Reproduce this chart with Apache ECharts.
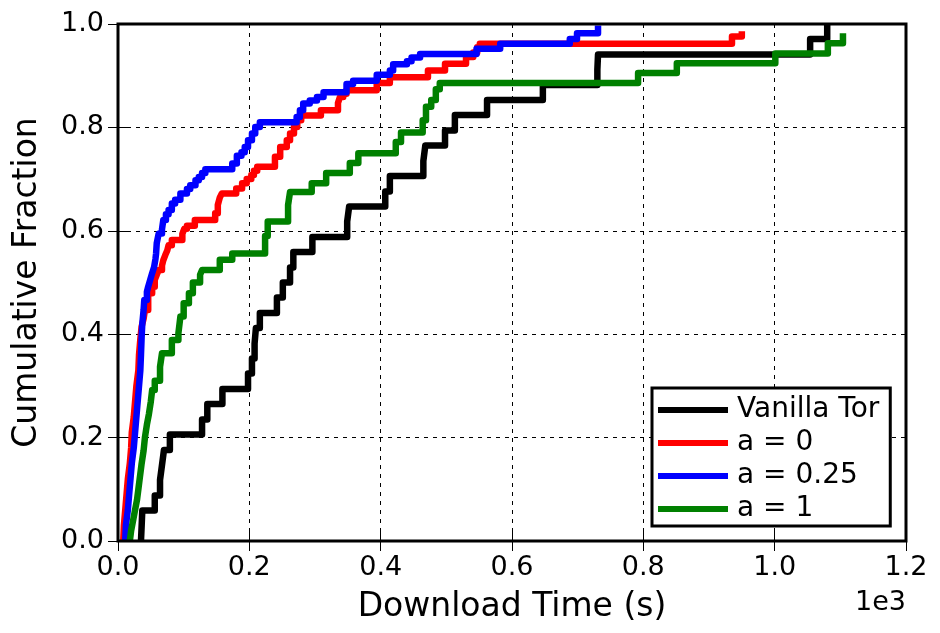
<!DOCTYPE html>
<html>
<head>
<meta charset="utf-8">
<title>Download Time CDF</title>
<script src="https://cdn.jsdelivr.net/npm/echarts@6/dist/echarts.min.js"></script>
<style>
  html, body { margin: 0; padding: 0; background: #ffffff; }
  #chart { width: 940px; height: 633px; }
</style>
</head>
<body>
<div id="chart"></div>
<script>
// Download times (seconds) and cumulative fraction reached at each time, per configuration
const timesVanilla = [35, 36, 37, 56, 64, 67, 70, 79, 128, 136, 159, 198, 204, 208, 210, 216, 242, 251, 262, 267, 296, 349, 352, 407, 414, 465, 468, 498, 513, 562, 647, 730, 731, 1054, 1080];
const fracVanilla  = [0, 0.029, 0.059, 0.088, 0.118, 0.147, 0.176, 0.206, 0.235, 0.265, 0.294, 0.324, 0.353, 0.382, 0.412, 0.441, 0.471, 0.500, 0.529, 0.559, 0.588, 0.618, 0.647, 0.676, 0.706, 0.735, 0.765, 0.794, 0.824, 0.853, 0.882, 0.912, 0.941, 0.971, 1.000];

const timesA0 = [8, 9, 11, 13, 15, 18, 20, 21, 24, 26, 28, 31, 32, 34, 36, 39, 41, 46, 52, 56, 59, 62, 67, 69, 72, 75, 77, 82, 98, 101, 105, 117, 148, 152, 155, 158, 180, 189, 196, 203, 207, 212, 239, 247, 257, 262, 268, 273, 279, 309, 335, 338, 343, 348, 394, 414, 472, 498, 530, 541, 547, 551, 935, 950];
const fracA0  = [0, 0.030, 0.060, 0.090, 0.120, 0.150, 0.180, 0.210, 0.240, 0.270, 0.300, 0.330, 0.360, 0.390, 0.415, 0.430, 0.447, 0.479, 0.492, 0.505, 0.515, 0.524, 0.533, 0.543, 0.553, 0.562, 0.572, 0.582, 0.594, 0.604, 0.610, 0.621, 0.634, 0.650, 0.664, 0.672, 0.682, 0.692, 0.700, 0.708, 0.716, 0.724, 0.743, 0.762, 0.775, 0.788, 0.801, 0.814, 0.823, 0.833, 0.847, 0.859, 0.865, 0.872, 0.886, 0.897, 0.910, 0.923, 0.936, 0.945, 0.955, 0.962, 0.976, 0.986];

const timesA025 = [11, 12, 15, 17, 19, 21, 24, 26, 28, 30, 32, 34, 35, 36, 37, 39, 40, 44, 46, 49, 52, 55, 57, 58, 59, 62, 67, 69, 73, 77, 82, 87, 95, 105, 110, 118, 123, 128, 133, 174, 181, 188, 193, 198, 204, 209, 216, 272, 277, 282, 292, 303, 313, 348, 358, 394, 414, 419, 440, 447, 460, 546, 582, 688, 699, 731];
const fracA025  = [0, 0.030, 0.060, 0.090, 0.120, 0.150, 0.180, 0.210, 0.240, 0.270, 0.300, 0.330, 0.360, 0.395, 0.420, 0.447, 0.466, 0.482, 0.492, 0.505, 0.518, 0.530, 0.545, 0.556, 0.576, 0.595, 0.603, 0.621, 0.632, 0.640, 0.653, 0.660, 0.672, 0.681, 0.688, 0.698, 0.704, 0.712, 0.719, 0.730, 0.745, 0.752, 0.762, 0.775, 0.788, 0.801, 0.810, 0.820, 0.833, 0.846, 0.852, 0.859, 0.868, 0.884, 0.890, 0.902, 0.910, 0.922, 0.928, 0.935, 0.942, 0.952, 0.962, 0.971, 0.982, 0.997];

const timesA1 = [18, 20, 23, 26, 29, 31, 33, 35, 36, 39, 41, 44, 47, 50, 52, 56, 64, 67, 82, 92, 95, 100, 108, 114, 125, 128, 155, 174, 224, 228, 259, 262, 295, 317, 353, 366, 423, 431, 464, 469, 477, 484, 490, 792, 851, 1001, 1081, 1104];
const fracA1  = [0, 0.020, 0.040, 0.060, 0.080, 0.100, 0.120, 0.140, 0.150, 0.175, 0.200, 0.225, 0.245, 0.270, 0.292, 0.310, 0.337, 0.363, 0.389, 0.402, 0.434, 0.460, 0.479, 0.500, 0.515, 0.524, 0.544, 0.556, 0.590, 0.618, 0.650, 0.675, 0.692, 0.712, 0.731, 0.750, 0.772, 0.790, 0.814, 0.840, 0.853, 0.874, 0.886, 0.905, 0.924, 0.943, 0.963, 0.982];

const seriesNames = ['Vanilla Tor', 'a = 0', 'a = 0.25', 'a = 1'];
const seriesColors = ['#000000', '#ff0000', '#0000ff', '#008000'];

const xMin = 0, xMax = 1200, xStep = 200;
const yMin = 0, yMax = 1, yStep = 0.2;

const FONT = 'DejaVu Sans';

function pairs(times, fracs) {
  return times.map((t, i) => [t, fracs[i]]);
}

const curves = [
  pairs(timesVanilla, fracVanilla),
  pairs(timesA0, fracA0),
  pairs(timesA025, fracA025),
  pairs(timesA1, fracA1)
];

const tickStyle = { show: true, inside: true, length: 10, lineStyle: { color: '#000', width: 1 } };
const gridDash = { show: true, lineStyle: { color: '#000', width: 1, type: [4, 5] } };

const chart = echarts.init(document.getElementById('chart'), null, { renderer: 'canvas' });

chart.setOption({
  animation: false,
  backgroundColor: '#ffffff',
  grid: {
    left: 118, right: 34, top: 24, bottom: 92,
    show: true,
    z: 10,
    backgroundColor: 'transparent',
    borderColor: '#000',
    borderWidth: 3
  },
  legend: {
    data: seriesNames,
    orient: 'vertical',
    left: 652,
    top: 388,
    padding: [8, 11, 3, 6],
    itemGap: 5,
    itemWidth: 70,
    itemHeight: 6,
    icon: 'rect',
    backgroundColor: '#ffffff',
    borderColor: '#000',
    borderWidth: 3,
    borderRadius: 0,
    z: 20,
    textStyle: { fontFamily: FONT, fontSize: 28, color: '#000', padding: [0, 0, 0, 4] }
  },
  xAxis: [
    {
      type: 'value', min: xMin, max: xMax, interval: xStep,
      position: 'bottom',
      name: 'Download Time (s)',
      nameLocation: 'middle',
      nameGap: 50,
      nameTextStyle: { fontFamily: FONT, fontSize: 33, color: '#000' },
      axisLine: { show: false },
      axisTick: tickStyle,
      axisLabel: {
        fontFamily: FONT, fontSize: 27, color: '#000', margin: 13,
        formatter: v => (v / 1000).toFixed(1)
      },
      splitLine: gridDash
    },
    {
      type: 'value', min: xMin, max: xMax, interval: xStep,
      position: 'top',
      axisLine: { show: false },
      axisTick: tickStyle,
      axisLabel: { show: false },
      splitLine: { show: false }
    }
  ],
  yAxis: [
    {
      type: 'value', min: yMin, max: yMax, interval: yStep,
      position: 'left',
      name: 'Cumulative Fraction',
      nameLocation: 'middle',
      nameGap: 74,
      nameTextStyle: { fontFamily: FONT, fontSize: 33, color: '#000' },
      axisLine: { show: false },
      axisTick: tickStyle,
      axisLabel: {
        fontFamily: FONT, fontSize: 27, color: '#000', margin: 14,
        formatter: v => v.toFixed(1)
      },
      splitLine: gridDash
    },
    {
      type: 'value', min: yMin, max: yMax, interval: yStep,
      position: 'right',
      axisLine: { show: false },
      axisTick: tickStyle,
      axisLabel: { show: false },
      splitLine: { show: false }
    }
  ],
  graphic: [
    {
      type: 'text',
      right: 34,
      top: 589,
      style: { text: '1e3', fontFamily: FONT, fontSize: 27, fill: '#000' }
    }
  ],
  series: seriesNames.map((name, i) => ({
    name: name,
    type: 'line',
    xAxisIndex: 0,
    yAxisIndex: 0,
    step: 'end',
    showSymbol: false,
    symbol: 'none',
    clip: true,
    data: curves[i],
    color: seriesColors[i],
    lineStyle: { color: seriesColors[i], width: 6.5, join: 'round', cap: 'butt' },
    emphasis: { disabled: true }
  }))
});
</script>
</body>
</html>
